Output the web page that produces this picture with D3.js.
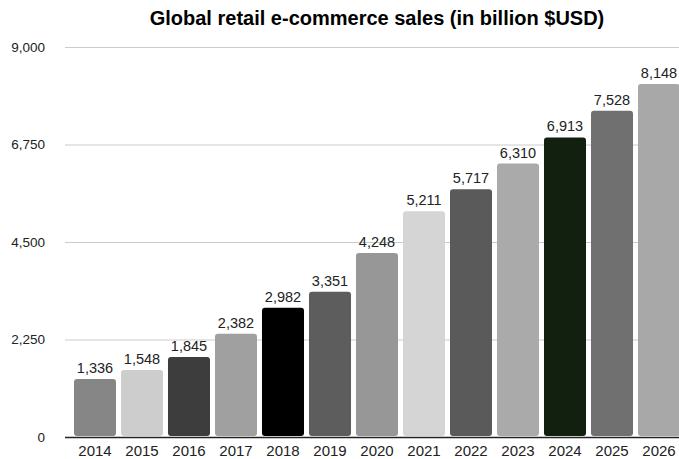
<!DOCTYPE html>
<html>
<head>
<meta charset="utf-8">
<script src="https://cdn.jsdelivr.net/npm/d3@7"></script>
<style>
  html, body { margin: 0; padding: 0; background: #fff; }
  svg { display: block; font-family: "Liberation Sans", Arial, Helvetica, sans-serif; }
</style>
</head>
<body>
<svg id="chart" width="679" height="459"></svg>
<script>
// Global retail e-commerce sales, billions of USD
const years = ["2014", "2015", "2016", "2017", "2018", "2019", "2020",
               "2021", "2022", "2023", "2024", "2025", "2026"];
const sales = [1336, 1548, 1845, 2382, 2982, 3351, 4248,
               5211, 5717, 6310, 6913, 7528, 8148];
const barColors = ["#868686", "#cdcdcd", "#3d3d3d", "#a0a0a0", "#000000", "#5d5d5d", "#979797",
                   "#d5d5d5", "#5a5a5a", "#aaaaaa", "#11200f", "#707070", "#a8a8a8"];
const yTicks = [0, 2250, 4500, 6750, 9000];

const svg = d3.select("#chart");
const W = 679, H = 459;

const x = d3.scaleBand()
  .domain(years)
  .range([71.5, 71.5 + 47 * 13])
  .paddingInner(0.106)
  .paddingOuter(0.053);

const y = d3.scaleLinear()
  .domain([0, 9000])
  .range([437, 47]);

const fmt = d3.format(",");

// Title
svg.append("text")
  .attr("x", 377)
  .attr("y", 25)
  .attr("text-anchor", "middle")
  .attr("font-size", 20)
  .attr("font-weight", "bold")
  .attr("fill", "#000")
  .text("Global retail e-commerce sales (in billion $USD)");

// Horizontal gridlines and y labels
const yAxis = d3.axisLeft(y)
  .tickValues(yTicks)
  .tickFormat(fmt)
  .tickSize(-(W - 65))
  .tickPadding(20);

const gy = svg.append("g")
  .attr("transform", "translate(65,0)")
  .call(yAxis);
gy.select(".domain").remove();
gy.selectAll(".tick line").attr("stroke", "#cccccc").attr("stroke-width", 1);
gy.selectAll(".tick text")
  .attr("fill", "#222")
  .attr("font-size", 13.5)
  .attr("font-family", "\"Liberation Sans\", Arial, sans-serif");

// Bars
svg.append("g")
  .selectAll("rect")
  .data(years)
  .join("rect")
  .attr("x", d => x(d))
  .attr("width", x.bandwidth())
  .attr("y", (d, i) => y(sales[i]))
  .attr("height", (d, i) => y(0) - 1 - y(sales[i]))
  .attr("rx", 3)
  .attr("ry", 3)
  .attr("fill", (d, i) => barColors[i]);

// Value labels above bars
svg.append("g")
  .selectAll("text")
  .data(years)
  .join("text")
  .attr("x", d => x(d) + x.bandwidth() / 2)
  .attr("y", (d, i) => y(sales[i]) - 6)
  .attr("text-anchor", "middle")
  .attr("font-size", 14.5)
  .attr("fill", "#222")
  .text((d, i) => fmt(sales[i]));

// Baseline
svg.append("line")
  .attr("x1", 65).attr("x2", W)
  .attr("y1", y(0) + 0.5).attr("y2", y(0) + 0.5)
  .attr("stroke", "#222")
  .attr("stroke-width", 1.5);

// X axis labels
const xAxis = d3.axisBottom(x).tickSize(0).tickPadding(7);
const gx = svg.append("g")
  .attr("transform", `translate(0,${y(0) + 1})`)
  .call(xAxis);
gx.select(".domain").remove();
gx.selectAll(".tick text")
  .attr("fill", "#222")
  .attr("font-size", 15)
  .attr("font-family", "\"Liberation Sans\", Arial, sans-serif");
</script>
</body>
</html>
